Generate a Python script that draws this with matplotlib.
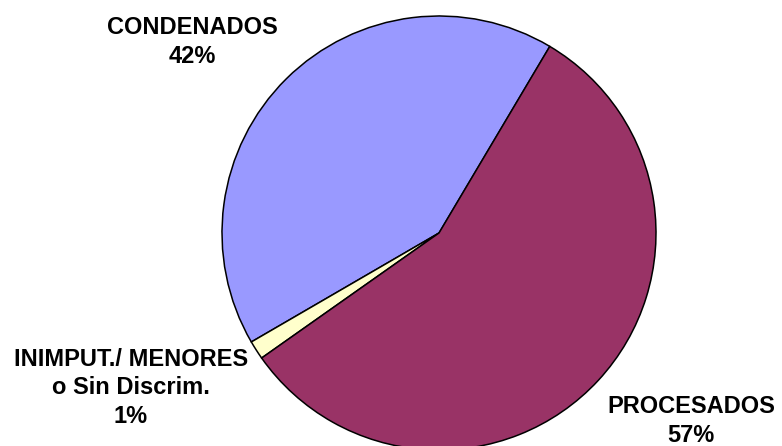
import matplotlib
matplotlib.use("Agg")
import matplotlib.pyplot as plt

# datos
categorias = ["CONDENADOS", "INIMPUT./ MENORES\no Sin Discrim.", "PROCESADOS"]
valores = [41.9, 1.4, 56.7]
colores = ["#9999FF", "#FFFFCC", "#993366"]

W, H = 782, 446
fig = plt.figure(figsize=(W / 100, H / 100), dpi=100)
ax = fig.add_axes([0, 0, 1, 1])

ax.pie(valores, colors=colores, startangle=59.3, counterclock=True,
       center=(439, H - 233), radius=217,
       wedgeprops=dict(edgecolor="black", linewidth=1.1))

# pie() cambia los limites, se ponen despues
ax.set_xlim(0, W)
ax.set_ylim(0, H)
ax.set_aspect("equal")
ax.axis("off")

# etiquetas (posicion del bloque de texto en pixeles)
pos = [(192, 42), (131, 388), (691, 421)]
for nombre, v, (x, y) in zip(categorias, valores, pos):
    ax.text(x, H - y, f"{nombre}\n{round(v)}%", ha="center", va="center",
            multialignment="center", fontsize=17, fontweight="bold",
            family="Liberation Sans", linespacing=1.3)

fig.savefig("out.png", dpi=100)
